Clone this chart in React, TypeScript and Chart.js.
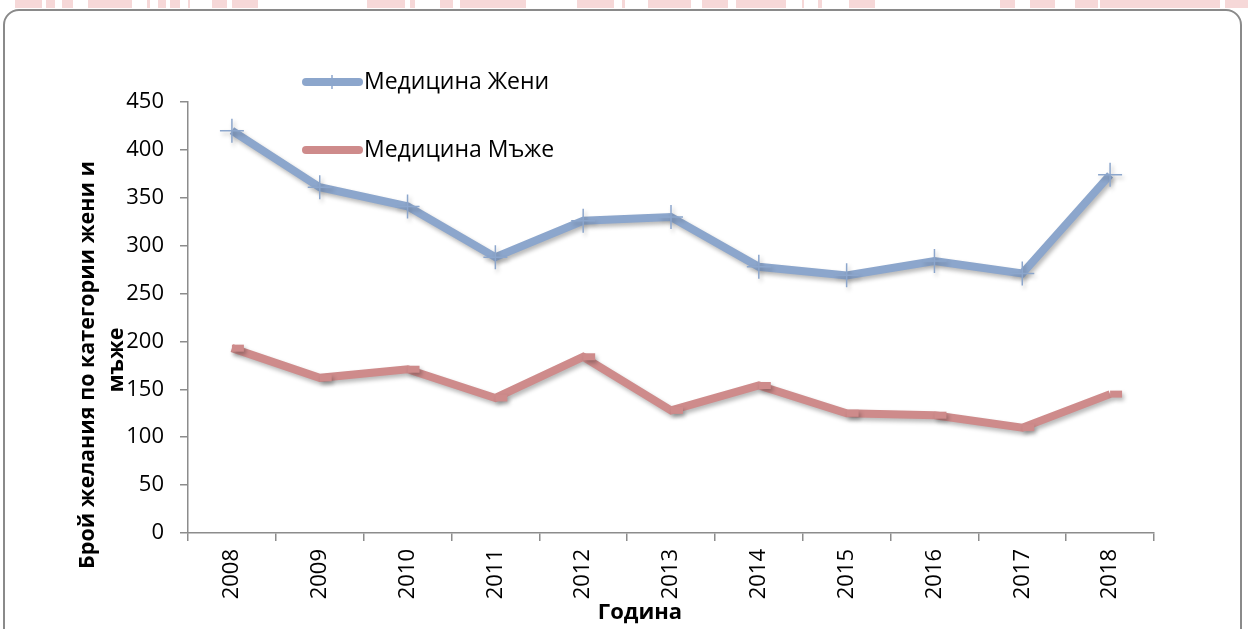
import React, { useEffect, useRef } from "react";
import { Chart, registerables } from "chart.js";

Chart.register(...registerables);

const years = ["2008", "2009", "2010", "2011", "2012", "2013", "2014", "2015", "2016", "2017", "2018"];
const womenValues = [420, 361, 341, 288, 326, 330, 278, 269, 284, 271, 374];
const menValues = [193, 162, 171, 141, 184, 128, 154, 125, 123, 110, 145];
const seriesLabels = ["Медицина Жени", "Медицина Мъже"];
const yAxisTitle = ["Брой желания по категории жени и", "мъже"];
const xAxisTitle = "Година";
const yMin = 0;
const yMax = 450;
const yStep = 50;

const BLUE = "#8CA6CC";
const RED = "#CE8B8B";
const AXIS = "#8c8c8c";
const TICK_FONT = "'Open Sans', sans-serif";
const TEXT_FONT = "'Open Sans', sans-serif";

const pinkBlocks: [number, number][] = [
  [15, 42], [46, 55], [62, 73], [88, 132], [147, 150], [158, 166], [170, 180], [188, 190],
  [212, 227], [232, 258], [367, 405], [410, 415], [440, 453], [460, 526], [577, 614], [622, 625],
  [648, 691], [702, 728], [736, 786], [802, 802], [818, 822], [849, 875], [1000, 1015], [1030, 1055],
  [1075, 1098], [1100, 1220], [1225, 1248],
];

const shadowPlugin = {
  id: "lineShadow",
  beforeDatasetsDraw(chart: any) {
    const ctx = chart.ctx;
    ctx.save();
    ctx.shadowColor = "rgba(0,0,0,0.28)";
    ctx.shadowBlur = 4;
    ctx.shadowOffsetX = 2;
    ctx.shadowOffsetY = 3;
  },
  afterDatasetsDraw(chart: any) {
    chart.ctx.restore();
  },
};

const decorPlugin = {
  id: "decor",
  afterDraw(chart: any) {
    const ctx = chart.ctx as CanvasRenderingContext2D;
    ctx.save();
    // Legend
    const items = [
      { label: seriesLabels[0], color: BLUE, y: 82, cross: true },
      { label: seriesLabels[1], color: RED, y: 150, cross: false },
    ];
    for (const it of items) {
      ctx.strokeStyle = it.color;
      ctx.lineWidth = 8;
      ctx.lineCap = "round";
      ctx.beginPath();
      ctx.moveTo(306, it.y);
      ctx.lineTo(359, it.y);
      ctx.stroke();
      if (it.cross) {
        ctx.lineCap = "butt";
        ctx.lineWidth = 1.5;
        ctx.beginPath();
        ctx.moveTo(332, it.y - 7);
        ctx.lineTo(332, it.y + 7);
        ctx.stroke();
      }
      ctx.fillStyle = "#000";
      ctx.font = `23px ${TEXT_FONT}`;
      ctx.textAlign = "left";
      ctx.textBaseline = "middle";
      ctx.fillText(it.label, 364, it.y);
    }
    // Y axis title
    ctx.save();
    ctx.translate(88, 365);
    ctx.rotate(-Math.PI / 2);
    ctx.font = `bold 21.5px ${TEXT_FONT}`;
    ctx.fillStyle = "#000";
    ctx.textAlign = "center";
    ctx.textBaseline = "middle";
    ctx.fillText(yAxisTitle[0], 0, 0);
    ctx.fillText(yAxisTitle[1], 5, 29);
    ctx.restore();
    // X axis title
    ctx.font = `bold 22px ${TEXT_FONT}`;
    ctx.fillStyle = "#000";
    ctx.textAlign = "center";
    ctx.textBaseline = "middle";
    ctx.fillText(xAxisTitle, 640, 613);
    ctx.restore();
  },
};

export default function App() {
  const ref = useRef<HTMLCanvasElement | null>(null);

  useEffect(() => {
    if (!ref.current) return;
    const chart = new Chart(ref.current, {
      type: "line",
      data: {
        labels: years,
        datasets: [
          {
            label: seriesLabels[0],
            data: womenValues,
            borderColor: BLUE,
            backgroundColor: BLUE,
            borderWidth: 8,
            tension: 0,
            pointStyle: "cross",
            pointRadius: 12,
            pointHoverRadius: 12,
            pointBorderWidth: 1.5,
            pointBorderColor: BLUE,
          },
          {
            label: seriesLabels[1],
            data: menValues,
            borderColor: RED,
            backgroundColor: RED,
            borderWidth: 8,
            tension: 0,
            pointStyle: "dash",
            pointRadius: 12,
            pointHoverRadius: 12,
            pointBorderWidth: 7,
            pointBorderColor: RED,
          },
        ],
      },
      options: {
        animation: false,
        responsive: false,
        events: [],
        layout: { padding: { left: 0, right: 94, top: 102, bottom: 0 } },
        plugins: {
          legend: { display: false },
          tooltip: { enabled: false },
          title: { display: false },
        },
        scales: {
          x: {
            offset: true,
            grid: {
              offset: true,
              drawOnChartArea: false,
              drawTicks: true,
              tickLength: 8,
              color: AXIS,
              lineWidth: 1.5,
            },
            border: { color: AXIS, width: 1.5 },
            ticks: {
              color: "#000",
              font: { family: TICK_FONT, size: 22 },
              minRotation: 90,
              maxRotation: 90,
              padding: 8,
              autoSkip: false,
            },
            afterFit(scale: any) {
              scale.height = 96;
            },
          },
          y: {
            min: yMin,
            max: yMax,
            ticks: {
              stepSize: yStep,
              color: "#000",
              font: { family: TICK_FONT, size: 22 },
              padding: 16,
            },
            grid: {
              drawOnChartArea: false,
              drawTicks: true,
              tickLength: 8,
              color: AXIS,
              lineWidth: 1.5,
            },
            border: { color: AXIS, width: 1.5 },
            afterFit(scale: any) {
              scale.width = 188;
            },
          },
        },
      },
      plugins: [shadowPlugin, decorPlugin],
    });
    return () => chart.destroy();
  }, []);

  return (
    <div
      style={{
        position: "fixed",
        left: 0,
        top: 0,
        width: 1248,
        height: 629,
        overflow: "hidden",
        background: "#fff",
      }}
    >
      {pinkBlocks.map(([a, b], i) => (
        <div
          key={i}
          style={{
            position: "absolute",
            left: a,
            top: 0,
            width: Math.max(2, b - a),
            height: 8,
            background: "#F6D8D8",
          }}
        />
      ))}
      <div
        style={{
          position: "absolute",
          left: 3,
          top: 9,
          width: 1239,
          height: 650,
          border: "2px solid #8a8a8a",
          borderRadius: 16,
          boxSizing: "border-box",
        }}
      />
      <canvas
        ref={ref}
        width={1248}
        height={629}
        style={{ position: "absolute", left: 0, top: 0, width: 1248, height: 629 }}
      />
    </div>
  );
}
